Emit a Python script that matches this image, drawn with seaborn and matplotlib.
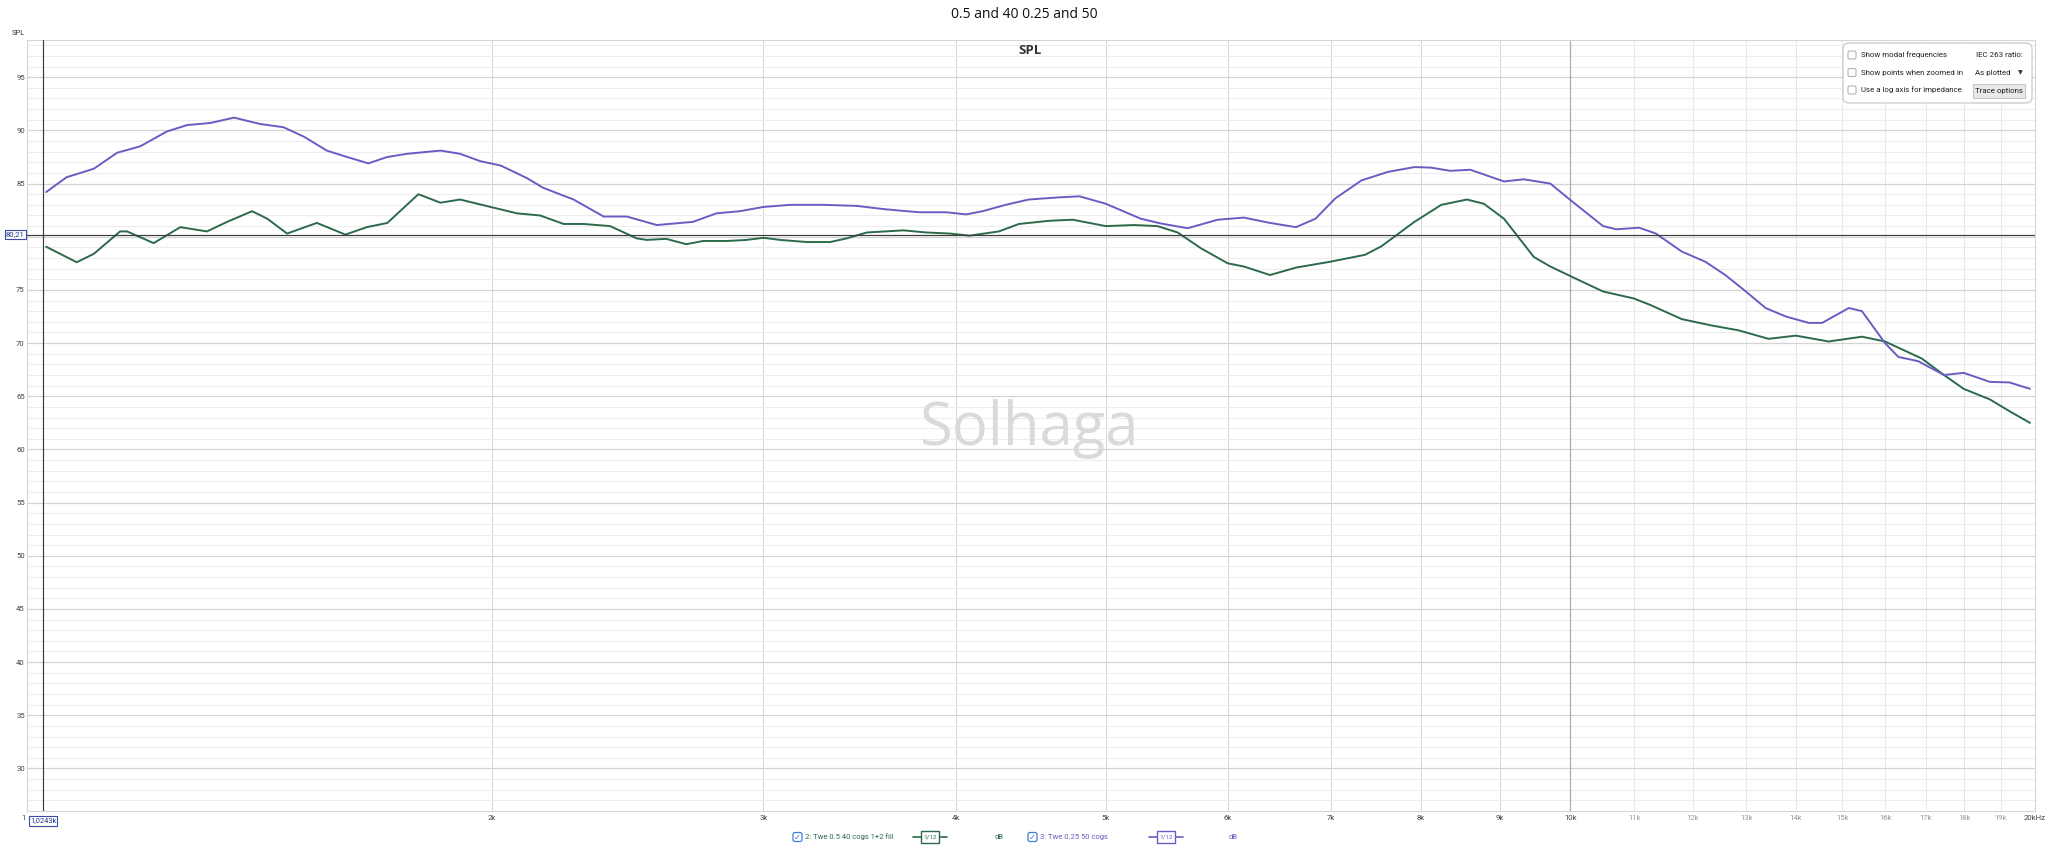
import numpy as np
import pandas as pd
import seaborn as sns
import matplotlib.pyplot as plt
from matplotlib import transforms
from matplotlib.patches import Rectangle, FancyBboxPatch
from matplotlib.lines import Line2D

# trace 2 (green): frequency in Hz, SPL in dB
green_freq = [1029, 1077, 1105, 1149, 1161, 1208, 1257, 1308, 1348, 1399, 1431, 1474,
              1541, 1608, 1660, 1712, 1793, 1853, 1908, 1997, 2077, 2150, 2227, 2294,
              2387, 2483, 2520, 2595, 2674, 2742, 2840, 2925, 3000, 3077, 3202, 3314,
              3398, 3500, 3698, 3825, 3962, 4080, 4263, 4392, 4596, 4760, 5000, 5216,
              5401, 5566, 5765, 5998, 6144, 6388, 6641, 6989, 7360, 7543, 7924, 8248,
              8570, 8789, 9056, 9283, 9469, 9705, 10000, 10500, 10990, 11260, 11810,
              12350, 12850, 13440, 14000, 14700, 15450, 15990, 16890, 17460, 17980,
              18700, 19250, 19850]
green_spl = [79.06, 77.6, 78.4, 80.5, 80.5, 79.4, 80.9, 80.5, 81.4, 82.4, 81.7, 80.3,
             81.3, 80.2, 80.9, 81.3, 84.0, 83.2, 83.5, 82.8, 82.2, 82.0, 81.2, 81.2,
             81.0, 79.85, 79.7, 79.8, 79.3, 79.6, 79.6, 79.7, 79.9, 79.7, 79.5, 79.5,
             79.85, 80.4, 80.6, 80.4, 80.3, 80.1, 80.5, 81.2, 81.5, 81.6, 81.0, 81.1,
             81.0, 80.4, 78.9, 77.5, 77.2, 76.4, 77.1, 77.65, 78.3, 79.1, 81.4, 83.0,
             83.5, 83.1, 81.7, 79.7, 78.1, 77.2, 76.3, 74.85, 74.2, 73.6, 72.25,
             71.65, 71.2, 70.4, 70.7, 70.15, 70.6, 70.15, 68.55, 67.0, 65.7,
             64.7, 63.6, 62.5]

# trace 3 (purple)
purple_freq = [1029, 1061, 1083, 1105, 1144, 1184, 1232, 1270, 1315, 1362, 1416, 1466,
               1512, 1564, 1612, 1664, 1712, 1763, 1853, 1908, 1967, 2027, 2109, 2160,
               2260, 2364, 2447, 2559, 2701, 2797, 2896, 3000, 3123, 3282, 3449, 3589,
               3716, 3790, 3942, 4060, 4160, 4306, 4457, 4660, 4808, 5000, 5267, 5427,
               5649, 5909, 6144, 6388, 6641, 6837, 7041, 7323, 7618, 7924, 8121, 8357,
               8613, 9056, 9328, 9705, 10000, 10500, 10710, 11080, 11360, 11810, 12230,
               12600, 12980, 13380, 13790, 14270, 14560, 15150, 15450, 15990, 16310,
               16800, 17460, 17980, 18700, 19250, 19850]
purple_spl = [84.2, 85.6, 86.0, 86.4, 87.9, 88.5, 89.9, 90.5, 90.7, 91.2, 90.6, 90.3,
              89.4, 88.1, 87.5, 86.9, 87.5, 87.8, 88.1, 87.8, 87.1, 86.7, 85.5, 84.6,
              83.5, 81.9, 81.9, 81.1, 81.4, 82.2, 82.4, 82.8, 83.0, 83.0, 82.9, 82.6,
              82.4, 82.3, 82.3, 82.1, 82.4, 83.0, 83.5, 83.7, 83.8, 83.1, 81.7, 81.25,
              80.8, 81.6, 81.8, 81.3, 80.9, 81.7, 83.6, 85.3, 86.1, 86.55, 86.5, 86.2,
              86.3, 85.2, 85.4, 85.0, 83.45, 81.0, 80.7, 80.85, 80.3, 78.6, 77.65,
              76.4, 74.9, 73.3, 72.5, 71.9, 71.9, 73.3, 73.0, 70.0, 68.7,
              68.3, 67.0, 67.2, 66.35, 66.3, 65.7]

trace_names = ["2: Twe 0.5 40 cogs 1+2 fill", "3: Twe 0.25 50 cogs"]
trace_colors = ["#2c6a4b", "#6a5cc2"]

y_ticks = [30, 35, 40, 45, 50, 55, 60, 65, 70, 75, 80, 85, 90, 95]
x_major = [1000, 2000, 3000, 4000, 5000, 6000, 7000, 8000, 9000, 10000, 20000]
x_major_labels = ["1", "2k", "3k", "4k", "5k", "6k", "7k", "8k", "9k", "10k", "20kHz"]
x_minor = [11000, 12000, 13000, 14000, 15000, 16000, 17000, 18000, 19000]
x_minor_labels = ["11k", "12k", "13k", "14k", "15k", "16k", "17k", "18k", "19k"]

cursor_freq = 1024.3
cursor_spl = 80.21

sns.set_style("white")
plt.rcParams["font.family"] = ["Roboto", "DejaVu Sans"]

W, H = 2048, 846
fig = plt.figure(figsize=(W / 100, H / 100), dpi=100)
# pixel coordinates, origin top-left
pxT = transforms.Affine2D().scale(1, -1).translate(0, H).scale(1 / 100) + fig.dpi_scale_trans

L, R, T, B = 27, 2035, 40, 811
ax = fig.add_axes([L / W, 1 - B / H, (R - L) / W, (B - T) / H])

df = pd.concat([
    pd.DataFrame({"freq": green_freq, "spl": green_spl, "trace": trace_names[0]}),
    pd.DataFrame({"freq": purple_freq, "spl": purple_spl, "trace": trace_names[1]}),
])
sns.lineplot(data=df, x="freq", y="spl", hue="trace",
             palette=dict(zip(trace_names, trace_colors)),
             linewidth=1.4, legend=False, ax=ax, zorder=3)
for ln in ax.get_lines():
    ln.set_solid_joinstyle("round")

ax.set_xscale("log")
ax.set_xlim(1000, 20000)
ax.set_ylim(26, 98.5)
ax.set_xlabel("")
ax.set_ylabel("")

ax.set_yticks(y_ticks)
ax.set_yticks(np.arange(27, 99), minor=True)
ax.set_xticks(x_major, x_major_labels)
ax.set_xticks(x_minor, x_minor_labels, minor=True)
ax.set_axisbelow(True)
ax.grid(which="major", axis="y", color="#d4d4d4", lw=0.9)
ax.grid(which="minor", axis="y", color="#ededed", lw=0.8)
ax.grid(which="major", axis="x", color="#d6d6d6", lw=0.7)
ax.grid(which="minor", axis="x", color="#e8e8e8", lw=0.7)
ax.axvline(10000, color="#ababab", lw=0.9, zorder=1)

ax.tick_params(axis="both", which="both", length=0, labelsize=5.6, labelcolor="#444444")
ax.tick_params(axis="x", which="both", pad=3)
ax.tick_params(axis="y", which="both", pad=1.5)
ax.tick_params(axis="y", which="minor", labelleft=False)
ax.tick_params(axis="x", which="minor", labelcolor="#9a9a9a")
labels = ax.get_xticklabels()
labels[0].set_transform(labels[0].get_transform() + transforms.ScaledTranslation(-3 / 100, 0, fig.dpi_scale_trans))
labels[-1].set_horizontalalignment("right")
labels[-1].set_transform(labels[-1].get_transform() + transforms.ScaledTranslation(11 / 100, 0, fig.dpi_scale_trans))
for s in ax.spines.values():
    s.set_color("#d6d6d6")
    s.set_linewidth(0.8)

# cursor
ax.axhline(cursor_spl, color="#3c3c3c", lw=0.85, zorder=4)
ax.axvline(cursor_freq, color="#3c3c3c", lw=0.85, zorder=4)
box = dict(boxstyle="square,pad=0.15", fc="white", ec="#3b4aa6", lw=0.8)
fig.text(15.5, cursor_spl, f"{cursor_spl:.2f}".replace(".", ","), ha="center", va="center",
         size=5.6, color="#28358f", bbox=box, zorder=6,
         transform=transforms.blended_transform_factory(pxT, ax.transData))
fig.text(cursor_freq, 821, f"{cursor_freq / 1000:.4f}k".replace(".", ","), ha="center", va="center",
         size=5.4, color="#28358f", bbox=box, zorder=6,
         transform=transforms.blended_transform_factory(ax.transData, pxT))

# titles
fig.text(0.5, 1 - 15 / H, "0.5 and 40 0.25 and 50", ha="center", va="center",
         size=10, color="#111111", family=["Open Sans", "DejaVu Sans"])
fig.text(1030, 51, "SPL", transform=pxT, ha="center", va="center", size=9.5,
         weight="bold", color="#333333", family=["Open Sans", "DejaVu Sans"])
fig.text(18, 33, "SPL", transform=pxT, ha="center", va="center", size=5.5, color="#333333")
fig.text(1030, 429, "Solhaga", transform=pxT, ha="center", va="center", size=43,
         color="#dadada", family=["Open Sans", "DejaVu Sans"], zorder=0.5)

# options panel
fig.add_artist(FancyBboxPatch((1843, 43), 189, 60, boxstyle="round,pad=0,rounding_size=6",
                              fc="white", ec="#cfcfcf", lw=1, transform=pxT, zorder=5))
options = ["Show modal frequencies", "Show points when zoomed in", "Use a log axis for impedance"]
for yy, label in zip([55, 72.5, 90], options):
    fig.add_artist(FancyBboxPatch((1848, yy - 4), 8, 8, boxstyle="round,pad=0,rounding_size=1.5",
                                  fc="white", ec="#b4b4b4", lw=0.8, transform=pxT, zorder=6))
    fig.text(1861, yy, label, transform=pxT, ha="left", va="center", size=5.7, color="#222222", zorder=6)
fig.text(2023, 55, "IEC 263 ratio:", transform=pxT, ha="right", va="center", size=5.7, color="#222222", zorder=6)
fig.text(1975, 72.5, "As plotted", transform=pxT, ha="left", va="center", size=5.7, color="#222222", zorder=6)
fig.text(2023, 72.5, "▼", transform=pxT, ha="right", va="center", size=4.5, color="#333333",
         family="DejaVu Sans", zorder=6)
fig.add_artist(Rectangle((1973, 84), 52, 14, fc="#e9e9e9", ec="#c6c6c6", lw=0.8, transform=pxT, zorder=6))
fig.text(1999, 91, "Trace options", transform=pxT, ha="center", va="center", size=5.7, color="#222222", zorder=7)

# bottom legend
ly = 837
for x0, name, col, icon_x, db_x in [(793, trace_names[0], trace_colors[0], 913, 999),
                                    (1028, trace_names[1], trace_colors[1], 1149, 1233)]:
    fig.add_artist(FancyBboxPatch((x0, ly - 4.5), 9, 9, boxstyle="round,pad=0,rounding_size=2",
                                  fc="white", ec="#3d7fd6", lw=0.9, transform=pxT, zorder=6))
    fig.text(x0 + 4.5, ly, "✓", transform=pxT, ha="center", va="center", size=6,
             color="#3d7fd6", family="DejaVu Sans", zorder=7)
    fig.text(x0 + 12, ly, name, transform=pxT, ha="left", va="center", size=5.5, color=col)
    fig.add_artist(Line2D([icon_x, icon_x + 34], [ly, ly], color=col, lw=1.2, transform=pxT))
    fig.add_artist(Rectangle((icon_x + 8, ly - 6), 18, 12, fc="white", ec=col, lw=1, transform=pxT, zorder=6))
    fig.text(icon_x + 17, ly, "1/12", transform=pxT, ha="center", va="center", size=4.6, color=col, zorder=7)
    fig.text(db_x, ly, "dB", transform=pxT, ha="center", va="center", size=5.5, color=col)

fig.savefig("out.png", dpi=100)
